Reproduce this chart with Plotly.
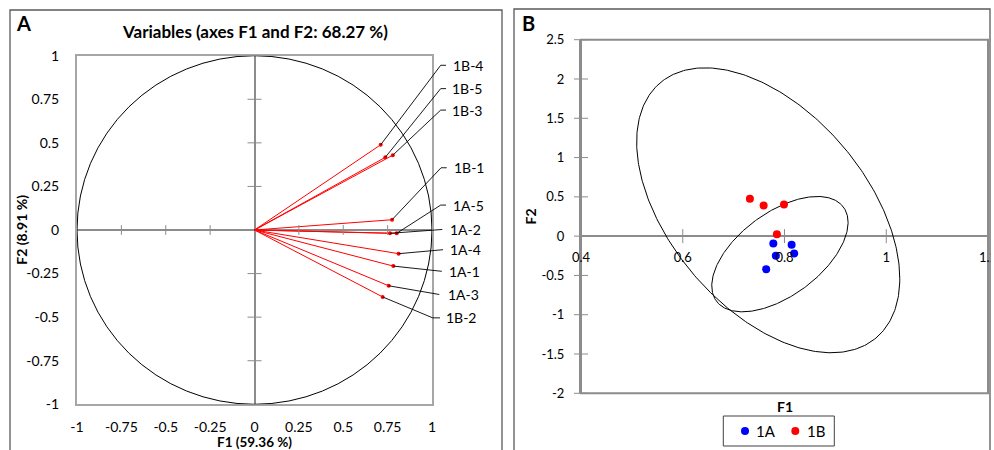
import numpy as np
import plotly.graph_objects as go

W, H = 994, 450
FONT = "Lato"

# ---------------- Panel A: correlation circle (variables on F1/F2) ----------------
var_names = ["1B-4", "1B-5", "1B-3", "1B-1", "1A-5", "1A-2", "1A-4", "1A-1", "1A-3", "1B-2"]
var_f1 = [0.711, 0.737, 0.779, 0.775, 0.801, 0.763, 0.812, 0.782, 0.756, 0.722]
var_f2 = [0.489, 0.417, 0.429, 0.059, -0.019, -0.019, -0.136, -0.207, -0.320, -0.384]

# label leaders: elbow point, end of the short horizontal stub, label anchor (F1/F2 units)
lead_elbow_x = [1.049, 1.049, 1.049, 1.051, 1.049, 1.058, 1.060, 1.055, 1.041, 1.004]
lead_elbow_y = [0.945, 0.811, 0.688, 0.357, 0.143, 0.003, -0.113, -0.237, -0.370, -0.504]
lead_end_x = [1.079, 1.079, 1.079, 1.083, 1.079, 1.058, 1.062, 1.055, 1.041, 1.045]
lab_x = [1.107, 1.101, 1.101, 1.111, 1.107, 1.092, 1.092, 1.086, 1.079, 1.068]

a_ticks = [-1, -0.75, -0.5, -0.25, 0, 0.25, 0.5, 0.75, 1]
a_ticktext = ["-1", "-0.75", "-0.5", "-0.25", "0", "0.25", "0.5", "0.75", "1"]
a_inner_ticks = [-0.75, -0.5, -0.25, 0.25, 0.5, 0.75]

# ---------------- Panel B: observations on F1/F2 with confidence ellipses ----------------
group_names = ["1A", "1B"]
group_colors = ["#0000ff", "#ff0000"]
obs_1a_f1 = [0.778, 0.814, 0.783, 0.819, 0.764]
obs_1a_f2 = [-0.093, -0.111, -0.251, -0.220, -0.420]
obs_1b_f1 = [0.732, 0.759, 0.799, 0.785]
obs_1b_f2 = [0.475, 0.391, 0.403, 0.025]

# ellipse: centre, half-width (F1), half-height (F2), correlation
ell_outer = dict(cx=0.768, cy=0.329, sx=0.2586, sy=1.813, rho=-0.48)
ell_inner = dict(cx=0.791, cy=-0.229, sx=0.134, sy=0.734, rho=0.55)

b_xticks = [0.4, 0.6, 0.8, 1.0, 1.2]
b_xticktext = ["0.4", "0.6", "0.8", "1", "1.2"]
b_yticks = [-2, -1.5, -1, -0.5, 0, 0.5, 1, 1.5, 2, 2.5]
b_yticktext = ["-2", "-1.5", "-1", "-0.5", "0", "0.5", "1", "1.5", "2", "2.5"]

# ---------------- layout geometry (pixels -> paper) ----------------
A_XDOM = [77 / W, 432 / W]
A_YDOM = [1 - 404.3 / H, 1 - 55.7 / H]
B_XDOM = [581 / W, 988 / W]
B_YDOM = [1 - 393.3 / H, 1 - 39.7 / H]

# legend box (pixels) and key positions
LEG_BOX = (723.3, 416, 834.3, 446)
LEG_KEY_X = [745, 795.3]
LEG_TEXT_X = [756, 806.5]
LEG_Y = 431


def extend_range(dom, rng):
    """Range of a full-paper axis sharing the scale of an axis with domain dom / range rng."""
    k = (rng[1] - rng[0]) / (dom[1] - dom[0])
    return [rng[0] - dom[0] * k, rng[0] + (1 - dom[0]) * k]


A_X3 = extend_range(A_XDOM, [-1, 1])
A_Y3 = extend_range(A_YDOM, [-1, 1])
B_ZERO_POS = B_YDOM[0] + (0 - (-2)) / 4.5 * (B_YDOM[1] - B_YDOM[0])

GRID_GREY = "#8c8c8c"
BORDER_GREY = "#a6a6a6"

fig = go.Figure()

# rays from the origin to each variable
ray_x, ray_y = [], []
for x, y in zip(var_f1, var_f2):
    ray_x += [0, x, None]
    ray_y += [0, y, None]
fig.add_trace(go.Scatter(x=ray_x, y=ray_y, mode="lines", line=dict(color="#ff0000", width=1),
                         xaxis="x", yaxis="y", showlegend=False, hoverinfo="skip"))
fig.add_trace(go.Scatter(x=var_f1, y=var_f2, mode="markers", marker=dict(color="#ff0000", size=4),
                         xaxis="x", yaxis="y", showlegend=False, text=var_names))

# cross ticks on the zero axes of panel A
fig.add_trace(go.Scatter(x=a_inner_ticks, y=[0] * len(a_inner_ticks), mode="markers",
                         marker=dict(symbol="line-ns", size=7, line=dict(color=GRID_GREY, width=1)),
                         xaxis="x", yaxis="y", showlegend=False, hoverinfo="skip"))
fig.add_trace(go.Scatter(x=[0] * len(a_inner_ticks), y=a_inner_ticks, mode="markers",
                         marker=dict(symbol="line-ew", size=10, line=dict(color=GRID_GREY, width=1)),
                         xaxis="x", yaxis="y", showlegend=False, hoverinfo="skip"))

# leader lines to the labels (drawn on a full-paper axis with identical scale)
ld_x, ld_y = [], []
for px_, py_, ex, ey, hx in zip(var_f1, var_f2, lead_elbow_x, lead_elbow_y, lead_end_x):
    ld_x += [px_, ex, hx, None]
    ld_y += [py_, ey, ey, None]
fig.add_trace(go.Scatter(x=ld_x, y=ld_y, mode="lines", line=dict(color="#000000", width=0.9),
                         xaxis="x3", yaxis="y3", showlegend=False, hoverinfo="skip"))

# ---------------- Panel B traces ----------------
t = np.linspace(0, 2 * np.pi, 361)
for e in (ell_outer, ell_inner):
    ex = e["cx"] + e["sx"] * np.cos(t)
    ey = e["cy"] + e["sy"] * (e["rho"] * np.cos(t) + np.sqrt(1 - e["rho"] ** 2) * np.sin(t))
    fig.add_trace(go.Scatter(x=ex, y=ey, mode="lines", line=dict(color="#000000", width=1),
                             xaxis="x2", yaxis="y2", showlegend=False, hoverinfo="skip"))

fig.add_trace(go.Scatter(x=b_xticks[1:], y=[0] * (len(b_xticks) - 1), mode="markers",
                         marker=dict(symbol="line-ns", size=10, line=dict(color=GRID_GREY, width=1)),
                         xaxis="x2", yaxis="y2", showlegend=False, hoverinfo="skip", cliponaxis=False))
fig.add_trace(go.Scatter(x=[b_xticks[0]] * len(b_yticks), y=b_yticks, mode="markers",
                         marker=dict(symbol="line-ew", size=10, line=dict(color=GRID_GREY, width=1)),
                         xaxis="x2", yaxis="y2", showlegend=False, hoverinfo="skip", cliponaxis=False))

for name, col, gx, gy in zip(group_names, group_colors, [obs_1a_f1, obs_1b_f1], [obs_1a_f2, obs_1b_f2]):
    fig.add_trace(go.Scatter(x=gx, y=gy, mode="markers", name=name, showlegend=False,
                             marker=dict(color=col, size=8), xaxis="x2", yaxis="y2"))

# legend keys, on a pixel-space overlay axis
fig.add_trace(go.Scatter(x=LEG_KEY_X, y=[LEG_Y] * 2, mode="markers", marker=dict(color=group_colors, size=8),
                         xaxis="x4", yaxis="y4", showlegend=False, hoverinfo="skip", cliponaxis=False))

# ---------------- shapes ----------------
shapes = [
    # unit circle
    dict(type="circle", xref="x", yref="y", x0=-1, y0=-1, x1=1, y1=1,
         line=dict(color="#000000", width=1), layer="above"),
    # panel B plot border
    dict(type="rect", xref="paper", yref="paper", x0=B_XDOM[0], x1=B_XDOM[1], y0=B_YDOM[0], y1=B_YDOM[1],
         line=dict(color=GRID_GREY, width=2), layer="below"),
    # cover the part of panel B beyond its frame
    dict(type="rect", xref="paper", yref="paper", x0=990.5 / W, x1=1.01, y0=-0.1, y1=1.1,
         line=dict(width=0), fillcolor="#ffffff", layer="above"),
    # panel frames
    dict(type="rect", xref="paper", yref="paper", x0=10 / W, x1=502 / W, y0=-0.1, y1=1 - 10 / H,
         line=dict(color="#595959", width=1.3), layer="above"),
    dict(type="rect", xref="paper", yref="paper", x0=514 / W, x1=990 / W, y0=-0.1, y1=1 - 9 / H,
         line=dict(color="#595959", width=1.3), layer="above"),
    # legend box
    dict(type="rect", xref="x4", yref="y4", x0=LEG_BOX[0], y0=LEG_BOX[1], x1=LEG_BOX[2], y1=LEG_BOX[3],
         line=dict(color="#404040", width=1), layer="below"),
]

# ---------------- annotations ----------------
def pap(px, py):
    return px / W, 1 - py / H


annotations = []
for name, lx, ly in zip(var_names, lab_x, lead_elbow_y):
    annotations.append(dict(x=lx, y=ly, xref="x3", yref="y3", text=name, showarrow=False,
                            xanchor="left", yanchor="middle", font=dict(family=FONT, size=14, color="#000")))

for name, tx in zip(group_names, LEG_TEXT_X):
    annotations.append(dict(x=tx, y=LEG_Y, xref="x4", yref="y4", text=name, showarrow=False,
                            xanchor="left", yanchor="middle", xshift=-2,
                            font=dict(family=FONT, size=15, color="#000")))


def label(text, px, py, size, bold=True, angle=0):
    x, y = pap(px, py)
    return dict(x=x, y=y, xref="paper", yref="paper", text=f"<b>{text}</b>" if bold else text,
                showarrow=False, xanchor="center", yanchor="middle", textangle=angle,
                font=dict(family=FONT, size=size, color="#000"))


annotations += [
    label("A", 23.3, 23, 20),
    label("B", 528.8, 22.5, 20),
    label("Variables (axes F1 and F2: 68.27 %)", 255, 31.7, 17),
    label("F1 (59.36 %)", 254, 442, 13.5),
    label("F2 (8.91 %)", 21.7, 230, 14, angle=-90),
    label("F1", 785, 406, 14),
    label("F2", 530.7, 216.7, 14, angle=-90),
]

tickfont_a = dict(family=FONT, size=14, color="#000")
tickfont_b = dict(family=FONT, size=13, color="#000")

fig.update_layout(
    width=W, height=H, margin=dict(l=0, r=0, t=0, b=0, pad=0, autoexpand=False),
    paper_bgcolor="#ffffff", plot_bgcolor="rgba(0,0,0,0)",
    font=dict(family=FONT, color="#000"),
    shapes=shapes, annotations=annotations, showlegend=False,
    xaxis=dict(domain=A_XDOM, range=[-1, 1], anchor="y", tickvals=a_ticks, ticktext=a_ticktext,
               ticks="", showgrid=False, showline=True, mirror=True, linecolor=BORDER_GREY, linewidth=2,
               zeroline=True, zerolinecolor=GRID_GREY, zerolinewidth=2, tickfont=tickfont_a,
               ticklabelstandoff=9, fixedrange=True, automargin=False),
    yaxis=dict(domain=A_YDOM, range=[-1, 1], anchor="x", tickvals=a_ticks, ticktext=a_ticktext,
               ticks="", showgrid=False, showline=True, mirror=True, linecolor=BORDER_GREY, linewidth=2,
               zeroline=True, zerolinecolor=GRID_GREY, zerolinewidth=2, tickfont=tickfont_a,
               ticklabelstandoff=13, fixedrange=True, automargin=False),
    xaxis2=dict(domain=B_XDOM, range=[0.4, 1.2], anchor="free", position=B_ZERO_POS,
                tickvals=b_xticks, ticktext=b_xticktext, ticks="", showgrid=False, showline=False,
                zeroline=False, tickfont=tickfont_b, ticklabelstandoff=12, fixedrange=True,
                automargin=False, ticklabeloverflow="allow"),
    yaxis2=dict(domain=B_YDOM, range=[-2, 2.5], anchor="x2", tickvals=b_yticks, ticktext=b_yticktext,
                ticks="", showgrid=False, showline=True, linecolor=GRID_GREY, linewidth=2,
                zeroline=True, zerolinecolor=GRID_GREY, zerolinewidth=2, tickfont=tickfont_b,
                ticklabelstandoff=12, fixedrange=True, automargin=False),
    xaxis3=dict(domain=[0, 1], range=A_X3, anchor="y3", visible=False, fixedrange=True),
    yaxis3=dict(domain=[0, 1], range=A_Y3, anchor="x3", visible=False, fixedrange=True),
    xaxis4=dict(domain=[0, 1], range=[0, W], anchor="y4", visible=False, fixedrange=True),
    yaxis4=dict(domain=[0, 1], range=[H, 0], anchor="x4", visible=False, fixedrange=True),
)

fig.write_html("out.html")
